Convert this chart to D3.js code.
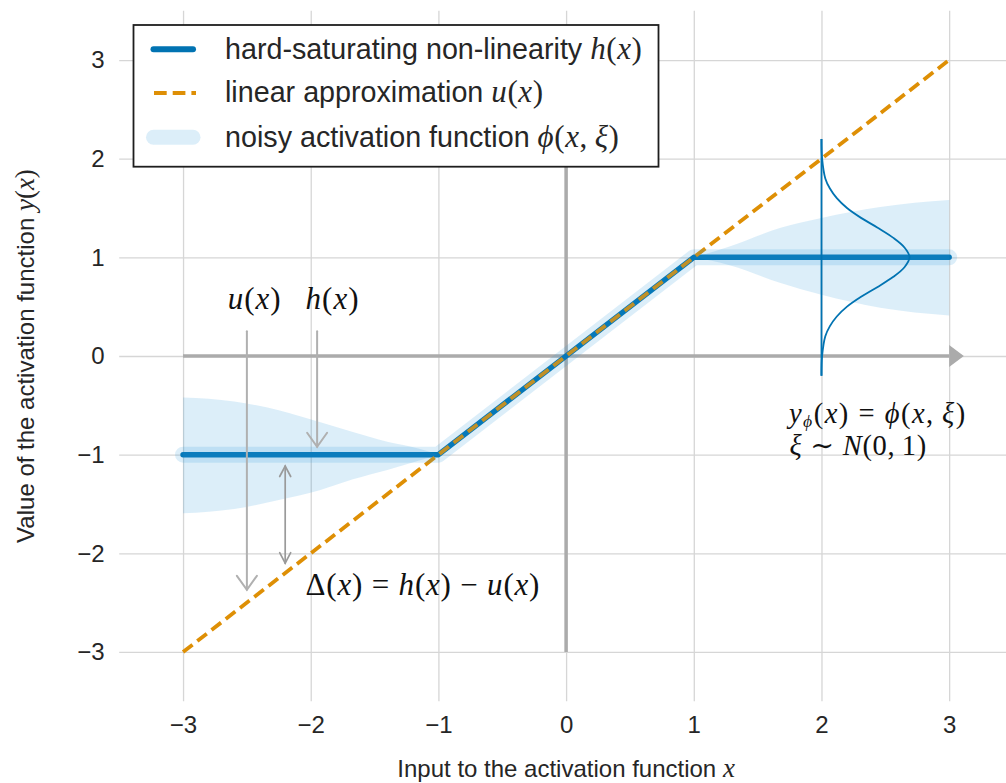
<!DOCTYPE html>
<html>
<head>
<meta charset="utf-8">
<script src="https://cdn.jsdelivr.net/npm/d3@7"></script>
<style>
  html, body { margin: 0; padding: 0; background: #fff; }
  svg { display: block; }
  text { white-space: pre; }
</style>
</head>
<body>
<svg id="chart" width="1006" height="783"></svg>
<script>
// ---- data -------------------------------------------------------------
const X_TICKS = [-3, -2, -1, 0, 1, 2, 3];
const Y_TICKS = [-3, -2, -1, 0, 1, 2, 3];

// hard-saturating non-linearity h(x): knots of the piecewise-linear curve
const H_X = [-3, -1, 1, 3];
const H_Y = [-1, -1, 1, 1];

// linear approximation u(x)
const U_X = [-3, 3];
const U_Y = [-3, 3];

// noise envelope of phi(x, xi) in the left saturated region
const BAND_L_X  = [-3, -2.6, -2.25, -1.93, -1.67, -1.4, -1.15, -1.0];
const BAND_L_UP = [-0.42, -0.46, -0.55, -0.67, -0.77, -0.87, -0.94, -1.0];
const BAND_L_LO = [-1.595, -1.55, -1.46, -1.36, -1.25, -1.155, -1.06, -1.0];

// noise envelope in the right saturated region
const BAND_R_X  = [1.0, 1.28, 1.68, 2.0, 2.46, 3.0];
const BAND_R_UP = [1.0, 1.11, 1.30, 1.40, 1.51, 1.58];
const BAND_R_LO = [1.0, 0.92, 0.74, 0.62, 0.49, 0.41];

// density of the noise drawn sideways at x = 2 (offset from h(2), width)
const GAUSS_X = 2;
const GAUSS_OFF  = [-1.2, -1.0, -0.8, -0.7, -0.6, -0.5, -0.4, -0.3, -0.2, -0.1, 0, 0.1, 0.2, 0.3, 0.4, 0.5, 0.6, 0.7, 0.8, 1.0, 1.2];
const GAUSS_DENS = [0, 0.005, 0.03, 0.065, 0.12, 0.20, 0.31, 0.44, 0.56, 0.65, 0.69, 0.65, 0.56, 0.44, 0.31, 0.20, 0.12, 0.065, 0.03, 0.005, 0];

// legend labels (sans text + math pieces)
const LEGEND_LABELS = [
  [["hard-saturating non-linearity ", "s"], ["h", "i"], ["(", "r"], ["x", "i"], [")", "r"]],
  [["linear approximation ", "s"], ["u", "i"], ["(", "r"], ["x", "i"], [")", "r"]],
  [["noisy activation function ", "s"], ["\u03d5", "i"], ["(", "r"], ["x", "i"], [",\u2009", "r"], ["\u03be", "i"], [")", "r"]]
];

// ---- setup ------------------------------------------------------------
const sansFont = "'Liberation Sans', Arial, Helvetica, sans-serif";
const mathFont = "'Liberation Serif', 'DejaVu Serif', serif";
const BLUE = "#0173b2";
const ORANGE = "#de8f05";
const NOISE = "rgba(40,150,220,0.16)";
const AXIS_GRAY = "#ababab";
const TEXT = "#262626";

const svg = d3.select("#chart");
const x = d3.scaleLinear().domain([-3.5, 3.5]).range([119.2, 1013]);
const y = d3.scaleLinear().domain([-3.5, 3.5]).range([701.3, 10.7]);
const [plotBottom, plotTop] = y.range();
const [plotLeft, plotRight] = x.range();

const fmt = d => d < 0 ? "\u2212" + (-d) : String(d);

// writes a mixed sans / math label as tspans
function mathText(g, px, py, parts, o) {
  const t = g.append("text")
    .attr("x", px).attr("y", py)
    .attr("fill", o.fill || "#111")
    .attr("text-anchor", o.anchor || "start");
  if (o.rotate) t.attr("transform", `rotate(-90,${px},${py})`);
  let shift = 0;
  parts.forEach(([s, k]) => {
    const ts = t.append("tspan").text(s);
    if (k === "s") {
      ts.attr("font-family", sansFont).attr("font-size", o.size);
    } else {
      ts.attr("font-family", mathFont)
        .attr("font-size", k === "sub" ? o.math * 0.62 : o.math);
      if (k !== "r") ts.attr("font-style", "italic");
      if (o.ls) ts.attr("letter-spacing", o.ls);
    }
    const want = k === "sub" ? o.math * 0.15 : 0;
    if (want !== shift) { ts.attr("dy", want - shift); shift = want; }
  });
  return t;
}

// ---- grid + tick labels ----------------------------------------------
const gx = svg.append("g")
  .attr("transform", `translate(0,${plotBottom})`)
  .call(d3.axisBottom(x).tickValues(X_TICKS)
    .tickSize(-(plotBottom - plotTop)).tickPadding(15).tickFormat(fmt));
gx.select(".domain").remove();
gx.selectAll(".tick line").attr("stroke", "#d6d6d6").attr("stroke-width", 1.3);
gx.selectAll(".tick text").attr("font-family", sansFont).attr("font-size", 24).attr("fill", TEXT);

const gy = svg.append("g")
  .attr("transform", `translate(${plotLeft},0)`)
  .call(d3.axisLeft(y).tickValues(Y_TICKS)
    .tickSize(-(plotRight - plotLeft)).tickPadding(14.5).tickFormat(fmt));
gy.select(".domain").remove();
gy.selectAll(".tick line").attr("stroke", "#d6d6d6").attr("stroke-width", 1.3);
gy.selectAll(".tick text").attr("font-family", sansFont).attr("font-size", 24).attr("fill", TEXT);

// ---- coordinate axes with arrow heads --------------------------------
const axes = svg.append("g");
axes.append("line")
  .attr("x1", x(-3)).attr("y1", y(0)).attr("x2", x(3)).attr("y2", y(0))
  .attr("stroke", AXIS_GRAY).attr("stroke-width", 3.5);
axes.append("path")
  .attr("d", `M${x(3)},${y(0) - 11}L${x(3.115)},${y(0)}L${x(3)},${y(0) + 11}Z`)
  .attr("fill", AXIS_GRAY);
axes.append("line")
  .attr("x1", x(0)).attr("y1", y(-3)).attr("x2", x(0)).attr("y2", y(3))
  .attr("stroke", AXIS_GRAY).attr("stroke-width", 3.5);
axes.append("path")
  .attr("d", `M${x(0) - 11},${y(3)}L${x(0)},${y(3.15)}L${x(0) + 11},${y(3)}Z`)
  .attr("fill", AXIS_GRAY);

// ---- h(x) and u(x) ----------------------------------------------------
const line = d3.line().x(d => x(d[0])).y(d => y(d[1]));
const hPts = d3.zip(H_X, H_Y);
const uPts = d3.zip(U_X, U_Y);

svg.append("path").attr("d", line(hPts))
  .attr("fill", "none").attr("stroke", BLUE).attr("stroke-width", 5.5)
  .attr("stroke-linecap", "round").attr("stroke-linejoin", "round");

svg.append("path").attr("d", line(uPts))
  .attr("fill", "none").attr("stroke", ORANGE).attr("stroke-width", 3.8)
  .attr("stroke-dasharray", "12,6");

// ---- noisy activation envelope ---------------------------------------
const area = d3.area()
  .x(d => x(d.x)).y0(d => y(d.lo)).y1(d => y(d.up))
  .curve(d3.curveMonotoneX);
const bandL = BAND_L_X.map((v, i) => ({ x: v, up: BAND_L_UP[i], lo: BAND_L_LO[i] }));
const bandR = BAND_R_X.map((v, i) => ({ x: v, up: BAND_R_UP[i], lo: BAND_R_LO[i] }));
svg.append("path").attr("d", area(bandL)).attr("fill", NOISE);
svg.append("path").attr("d", area(bandR)).attr("fill", NOISE);
svg.append("path").attr("d", line(hPts))
  .attr("fill", "none").attr("stroke", NOISE).attr("stroke-width", 16)
  .attr("stroke-linecap", "round").attr("stroke-linejoin", "round");

// ---- noise density at x = 2 ------------------------------------------
const gMean = H_Y[2]; // h(2) lies on the upper plateau
svg.append("line")
  .attr("x1", x(GAUSS_X)).attr("x2", x(GAUSS_X))
  .attr("y1", y(gMean + GAUSS_OFF[0])).attr("y2", y(gMean + GAUSS_OFF[GAUSS_OFF.length - 1]))
  .attr("stroke", BLUE).attr("stroke-width", 1.8);
const gLine = d3.line()
  .x(d => x(GAUSS_X + d[1])).y(d => y(gMean + d[0]))
  .curve(d3.curveCatmullRom.alpha(0.5));
svg.append("path").attr("d", gLine(d3.zip(GAUSS_OFF, GAUSS_DENS)))
  .attr("fill", "none").attr("stroke", BLUE).attr("stroke-width", 1.8);

// ---- annotation arrows -----------------------------------------------
const ann = svg.append("g").attr("fill", "none").attr("stroke-linecap", "round");
function vArrow(xv, yFrom, yTo, headW, headL, color, width, both) {
  const px = x(xv), a = y(yFrom), b = y(yTo);
  const dir = b > a ? 1 : -1;
  ann.append("line").attr("x1", px).attr("x2", px).attr("y1", a).attr("y2", b)
    .attr("stroke", color).attr("stroke-width", width);
  ann.append("path")
    .attr("d", `M${px - headW},${b - dir * headL}L${px},${b}L${px + headW},${b - dir * headL}`)
    .attr("stroke", color).attr("stroke-width", width).attr("stroke-linejoin", "miter");
  if (both) {
    ann.append("path")
      .attr("d", `M${px - headW},${a + dir * headL}L${px},${a}L${px + headW},${a + dir * headL}`)
      .attr("stroke", color).attr("stroke-width", width).attr("stroke-linejoin", "miter");
  }
}
vArrow(-2.5, 0.25, -2.37, 10, 14, "#b0b0b0", 2, false);
vArrow(-1.95, 0.25, -0.92, 10, 14, "#b0b0b0", 2, false);
vArrow(-2.2, -1.115, -2.10, 5.5, 10.5, "#9a9a9a", 1.7, true);

// ---- annotation texts -------------------------------------------------
const labels = svg.append("g");
const M = 31;
mathText(labels, x(-2.65), y(0.476), [["u", "i"], ["(", "r"], ["x", "i"], [")", "r"]], { math: M, ls: 1 });
mathText(labels, x(-2.04), y(0.476), [["h", "i"], ["(", "r"], ["x", "i"], [")", "r"]], { math: M, ls: 1 });
mathText(labels, x(-2.04), y(-2.42), [
  ["\u0394", "r"], ["(", "r"], ["x", "i"], [")", "r"], [" = ", "r"],
  ["h", "i"], ["(", "r"], ["x", "i"], [")", "r"], [" \u2212 ", "r"],
  ["u", "i"], ["(", "r"], ["x", "i"], [")", "r"]
], { math: M, ls: 0.8 });
mathText(labels, x(1.745), y(-0.675), [
  ["y", "i"], ["\u03d5", "sub"], ["(", "r"], ["x", "i"], [")", "r"], [" = ", "r"],
  ["\u03d5", "i"], ["(", "r"], ["x", "i"], [",\u2009", "r"], ["\u03be", "i"], [")", "r"]
], { math: 28.5, ls: 1.5 });
mathText(labels, x(1.75), y(-1.0), [
  ["\u03be", "i"], [" \u223c ", "r"], ["N", "i"], ["(0,\u20091)", "r"]
], { math: 28.5, ls: 0.7 });

// ---- axis titles ------------------------------------------------------
mathText(svg, x(0), 777, [["Input to the activation function ", "s"], ["x", "i"]],
  { size: 24, math: 27, anchor: "middle", fill: TEXT });
mathText(svg, 33.5, y(0), [["Value of the activation function ", "s"], ["y", "i"], ["(", "r"], ["x", "i"], [")", "r"]],
  { size: 24, math: 27, anchor: "middle", fill: TEXT, rotate: true });

// ---- legend ------------------------------------------------------------
const leg = svg.append("g");
leg.append("rect")
  .attr("x", 133.5).attr("y", 25).attr("width", 525).attr("height", 141.7)
  .attr("fill", "#fff").attr("stroke", "#1e1e1e").attr("stroke-width", 1.8);
const rowY = [49.3, 93, 137.3];
leg.append("line").attr("x1", 153.5).attr("x2", 193).attr("y1", rowY[0]).attr("y2", rowY[0])
  .attr("stroke", BLUE).attr("stroke-width", 6).attr("stroke-linecap", "round");
leg.append("line").attr("x1", 154).attr("x2", 196).attr("y1", rowY[1]).attr("y2", rowY[1])
  .attr("stroke", ORANGE).attr("stroke-width", 3.8).attr("stroke-dasharray", "12.7,6");
leg.append("line").attr("x1", 153.5).attr("x2", 193).attr("y1", rowY[2]).attr("y2", rowY[2])
  .attr("stroke", NOISE).attr("stroke-width", 15).attr("stroke-linecap", "round");
LEGEND_LABELS.forEach((parts, i) => {
  mathText(leg, 225, rowY[i] + 9.4, parts, { size: 28.7, math: 31, fill: TEXT, ls: 0.6 });
});
</script>
</body>
</html>
